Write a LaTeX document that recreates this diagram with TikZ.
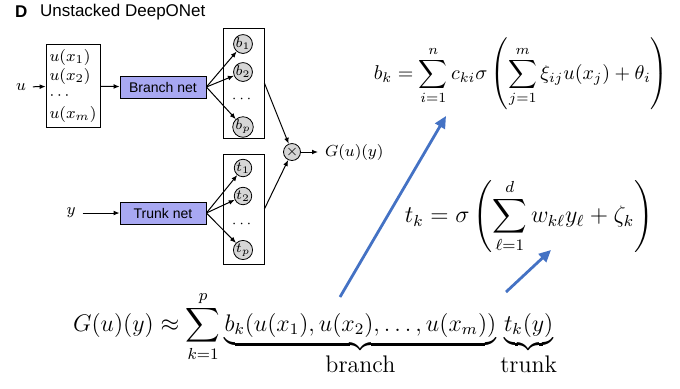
\documentclass[tikz,border=0pt]{standalone}
\usepackage{amsmath}
\usepackage{fontspec}
\newfontfamily\headfont{Liberation Sans}
\usepackage{tikz}
\usetikzlibrary{
  arrows.meta
  , calc
}

\definecolor{netfill}{RGB}{168,168,242}
\definecolor{cellfill}{RGB}{214,214,214}
\definecolor{pointblue}{RGB}{68,114,196}

\tikzset{
  net/.style={draw, fill=netfill, minimum width=43pt, minimum height=11pt,
    inner sep=0pt, font=\headfont\fontsize{7}{8}\selectfont},
  outbox/.style={draw, minimum width=20.5pt, minimum height=55pt},
  cell/.style={circle, draw, fill=cellfill, minimum size=8.5pt,
    inner sep=0pt, font=\scriptsize},
  link/.style={-{Latex[length=3pt,width=2.4pt]}, line width=0.5pt},
  pointer/.style={-{Triangle[length=6pt,width=5.5pt]}, draw=pointblue,
    fill=pointblue, line width=1.4pt}
}

\begin{document}
\begin{tikzpicture}[x=0.5pt, y=-0.5pt, font=\footnotesize]
      \useasboundingbox (0,0) rectangle (680,388);

      % heading
      \node [anchor=west, font=\headfont\bfseries\fontsize{8.5}{10}\selectfont] (panel) at (8,12) {D};
      \node [anchor=west, font=\headfont\fontsize{8.5}{10}\selectfont] (title) at (33,12) {Unstacked DeepONet};

      % branch side
      \node (u) at (21,87) {$u$};
      \node [draw, align=left, inner xsep=1.8pt, inner ysep=2.5pt] (sensors) at (73,86)
        {$u(x_1)$\\$u(x_2)$\\$\cdots$\\$u(x_m)$};
      \node [net] (bnet) at (163,87) {Branch net};
      \node [outbox, minimum height=55pt] (bbox) at (243.5,83) {};
      \node [cell] (b1) at (243,44) {$b_1$};
      \node [cell] (b2) at (243,72) {$b_2$};
      \node [font=\scriptsize] (bdots) at (243,99) {$\cdots$};
      \node [cell] (bp) at (243,127) {$b_p$};

      \draw [link] (u) -- (sensors);
      \draw [link] (sensors) -- (bnet);
      \draw [link] (bnet.east) -- (b1);
      \draw [link] (bnet.east) -- (b2);
      \draw [link] (bnet.east) -- (bp);

      % trunk side
      \node (y) at (71,213) {$y$};
      \node [net] (tnet) at (163,213) {Trunk net};
      \node [outbox, minimum height=55pt] (tbox) at (243.5,209) {};
      \node [cell] (t1) at (243,168) {$t_1$};
      \node [cell] (t2) at (243,196) {$t_2$};
      \node [font=\scriptsize] (tdots) at (243,224) {$\cdots$};
      \node [cell] (tp) at (243,250) {$t_p$};

      \draw [link] (y) -- (tnet);
      \draw [link] (tnet.east) -- (t1);
      \draw [link] (tnet.east) -- (t2);
      \draw [link] (tnet.east) -- (tp);

      % product of the two outputs
      \node [cell, minimum size=8.5pt] (prod) at (292,152) {$\times$};
      \node [anchor=west] (G) at (318,152) {$G(u)(y)$};
      \draw [link] (bbox.east) -- (prod);
      \draw [link] (tbox.east) -- (prod);
      \draw [link] (prod) -- (G);

      % formulas
      \node [font=\normalsize] (bkeq) at (521,74)
        {$\displaystyle b_k=\sum_{i=1}^{n}c_{ki}\sigma\left(\sum_{j=1}^{m}\xi_{ij}u(x_j)+\theta_i\right)$};
      \node [font=\large] (tkeq) at (529,216)
        {$\displaystyle t_k=\sigma\left(\sum_{\ell=1}^{d}w_{k\ell}y_\ell+\zeta_k\right)$};
      \node [anchor=base west, font=\large] (Geq) at (66,331)
        {$\displaystyle G(u)(y)\approx\sum_{k=1}^{p}
          \underbrace{b_k(u(x_1),u(x_2),\ldots,u(x_m))}_{\textstyle\text{branch}}
          \underbrace{t_k(y)}_{\textstyle\text{trunk}}$};

      % pointers from the sum to the formulas
      \coordinate (bfoot) at (340,297);
      \coordinate (bhead) at (446,116);
      \coordinate (tfoot) at (506,292);
      \coordinate (thead) at (551,250);
      \draw [pointer] (bfoot) -- (bhead);
      \draw [pointer] (tfoot) -- (thead);
    \end{tikzpicture}
\end{document}
